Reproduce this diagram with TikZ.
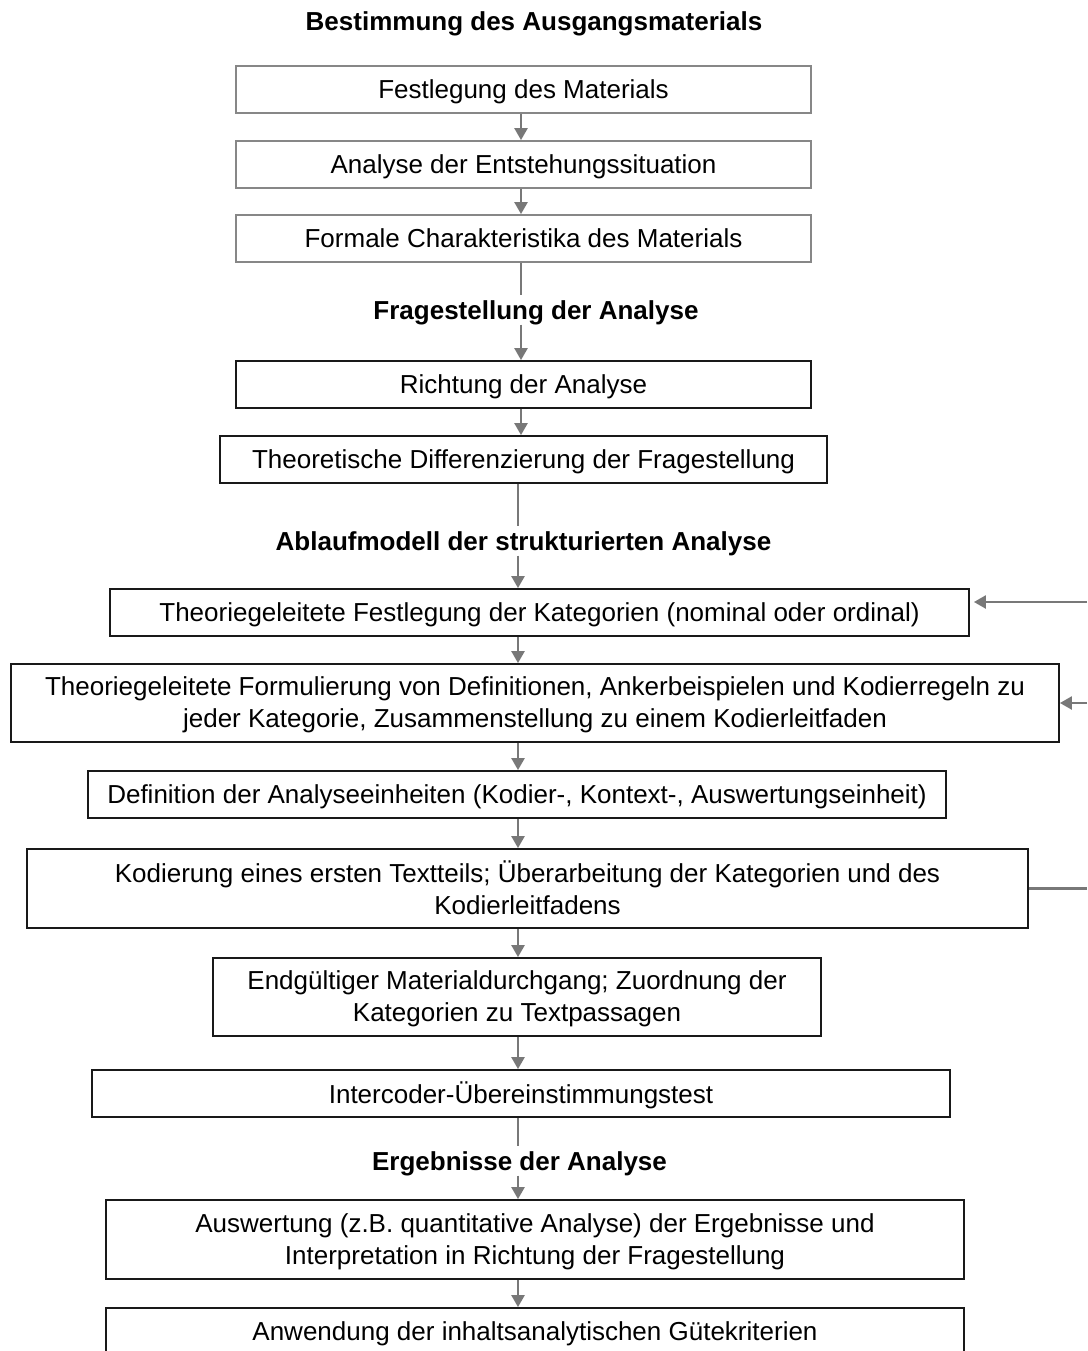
\documentclass[tikz,border=0pt]{standalone}
\usepackage{fontspec}
\setmainfont{Liberation Sans}
\usetikzlibrary{arrows.meta}

\definecolor{arrowgray}{RGB}{120,120,120}
\definecolor{boxgray}{RGB}{135,135,135}

\begin{document}
\begin{tikzpicture}[x=1pt,y=1pt,yscale=-1,
  every node/.style={font=\fontsize{26}{32}\selectfont},
  stepbox/.style={draw=black!90, line width=1.8pt, minimum height=47pt, align=center, inner sep=2pt, text depth=1pt},
  greybox/.style={stepbox, draw=boxgray},
  heading/.style={font=\fontsize{26}{32}\selectfont\bfseries, inner sep=3pt, text height=21pt, text depth=2pt},
  arr/.style={draw=arrowgray, line width=2.4pt, -{Triangle[width=13pt,length=12pt]}},
  lin/.style={draw=arrowgray, line width=2.4pt}]
\useasboundingbox (0,0) rectangle (1087,1351);

% columns of the connectors
\coordinate (ctop) at (521,0);
\coordinate (clow) at (518,0);

% Text Node
\node[heading] (t1) at (534,21) {Bestimmung des Ausgangsmaterials};

%Shape: Rectangle
\node[greybox, minimum width=575pt] (b1) at (523.5,89.5) {Festlegung des Materials};
\node[greybox, minimum width=575pt] (b2) at (523.5,164.5) {Analyse der Entstehungssituation};
\node[greybox, minimum width=575pt] (b3) at (523.5,238.5) {Formale Charakteristika des Materials};

% Text Node
\node[heading] (t2) at (536,310) {Fragestellung der Analyse};

%Shape: Rectangle
\node[stepbox, minimum width=575pt] (b4) at (523.5,384.5) {Richtung der Analyse};
\node[stepbox, minimum width=607pt] (b5) at (523.5,459.5) {Theoretische Differenzierung der Fragestellung};

% Text Node
\node[heading] (t3) at (523.5,541) {Ablaufmodell der strukturierten Analyse};

%Shape: Rectangle
\node[stepbox, minimum width=859pt] (b6) at (539.5,612.5) {Theoriegeleitete Festlegung der Kategorien (nominal oder ordinal)};
\node[stepbox, minimum width=1048pt, minimum height=78pt] (b7) at (535,703) {Theoriegeleitete Formulierung von Definitionen, Ankerbeispielen und Kodierregeln zu\\jeder Kategorie, Zusammenstellung zu einem Kodierleitfaden};
\node[stepbox, minimum width=858pt] (b8) at (517,794.5) {Definition der Analyseeinheiten (Kodier-, Kontext-, Auswertungseinheit)};
\node[stepbox, minimum width=1001pt, minimum height=79pt] (b9) at (527.5,888.5) {Kodierung eines ersten Textteils; Überarbeitung der Kategorien und des\\Kodierleitfadens};
\node[stepbox, minimum width=608pt, minimum height=78pt] (b10) at (517,997) {Endgültiger Materialdurchgang; Zuordnung der\\Kategorien zu Textpassagen};
\node[stepbox, minimum width=858pt] (b11) at (521,1093.5) {Intercoder-Übereinstimmungstest};

% Text Node
\node[heading] (t4) at (519.5,1161) {Ergebnisse der Analyse};

%Shape: Rectangle
\node[stepbox, minimum width=858pt, minimum height=79pt] (b12) at (535,1239.5) {Auswertung (z.B. quantitative Analyse) der Ergebnisse und\\Interpretation in Richtung der Fragestellung};
\node[stepbox, minimum width=858pt] (b13) at (535,1331.5) {Anwendung der inhaltsanalytischen Gütekriterien};

%Straight Lines
\draw[arr] (b1.south -| ctop) -- (b2.north -| ctop);
\draw[arr] (b2.south -| ctop) -- (b3.north -| ctop);
\draw[lin] (b3.south -| ctop) -- (t2.north -| ctop);
\draw[arr] (t2.south -| ctop) -- (b4.north -| ctop);
\draw[arr] (b4.south -| ctop) -- (b5.north -| ctop);
\draw[lin] (b5.south -| clow) -- (t3.north -| clow);
\draw[arr] (t3.south -| clow) -- (b6.north -| clow);
\draw[arr] (b6.south -| clow) -- (b7.north -| clow);
\draw[arr] (b7.south -| clow) -- (b8.north -| clow);
\draw[arr] (b8.south -| clow) -- (b9.north -| clow);
\draw[arr] (b9.south -| clow) -- (b10.north -| clow);
\draw[arr] (b10.south -| clow) -- (b11.north -| clow);
\draw[lin] (b11.south -| clow) -- (t4.north -| clow);
\draw[arr] (t4.south -| clow) -- (b12.north -| clow);
\draw[arr] (b12.south -| clow) -- (b13.north -| clow);

% feedback lines at the right edge
\coordinate (fb1) at (1087,602);
\coordinate (fb2) at (1087,703);
\coordinate (fb3) at (1087,888.5);
\draw[arr, shorten >=4pt] (fb1) -- (b6.east |- fb1);
\draw[arr] (fb2) -- (b7.east);
\draw[lin] (b9.east) -- (fb3);

\end{tikzpicture}
\end{document}
